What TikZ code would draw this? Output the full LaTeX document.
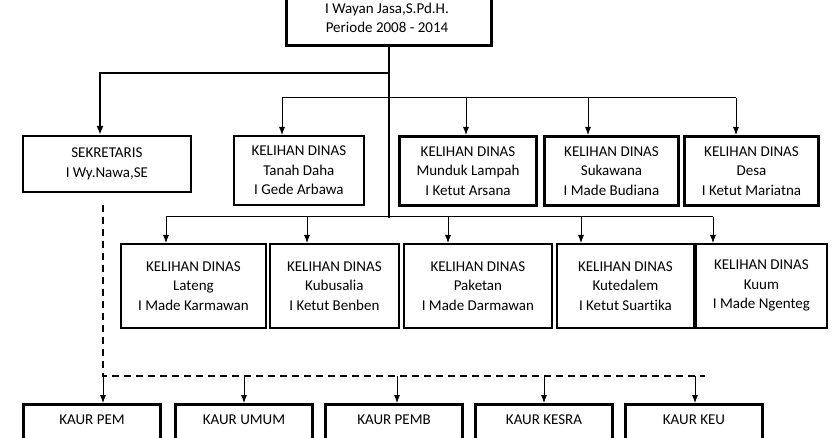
\documentclass[tikz,border=0pt]{standalone}
\usepackage{fontspec}
\setmainfont[Ligatures=NoCommon]{Carlito}
\usetikzlibrary{calc,arrows.meta}
\begin{document}
\begin{tikzpicture}[x=1pt,y=-1pt,font=\fontsize{15}{19.5}\selectfont,
 bx/.style={draw,line width=1.8pt,anchor=north west,inner sep=0pt},
 tk/.style={draw,line width=3pt,anchor=north west,inner sep=0pt},
 arr/.style={-{Latex[length=8pt,width=6pt]},line width=0.8pt}]
\useasboundingbox (0,0) rectangle (835,438);
\begin{scope}
\clip (0,0) rectangle (835,438);
\node[tk,minimum width=205pt,minimum height=54pt] (top) at (285,-10) {};
\node[align=center] at (387,18) {I Wayan Jasa,S.Pd.H.\\Periode 2008 - 2014};
% row 1
\node[bx,minimum width=168pt,minimum height=56pt,align=center] (sek) at (22,135) {SEKRETARIS\\I Wy.Nawa,SE};
\node[bx,minimum width=130pt,minimum height=69pt,align=center] (k1) at (233,135) {KELIHAN DINAS\\Tanah Daha\\I Gede Arbawa};
\node[tk,minimum width=137pt,minimum height=69pt,align=center] (k2) at (398,135) {KELIHAN DINAS\\Munduk Lampah\\I Ketut Arsana};
\node[tk,minimum width=134pt,minimum height=69pt,align=center] (k3) at (543,135) {KELIHAN DINAS\\Sukawana\\I Made Budiana};
\node[tk,minimum width=134pt,minimum height=69pt,align=center] (k4) at (683,135) {KELIHAN DINAS\\Desa\\I Ketut Mariatna};
% row 2
\node[bx,minimum width=145pt,minimum height=84pt,align=center] (r1) at (120,243) {KELIHAN DINAS\\Lateng\\I Made Karmawan};
\node[bx,minimum width=129pt,minimum height=84pt,align=center] (r2) at (269,243) {KELIHAN DINAS\\Kubusalia\\I Ketut Benben};
\node[bx,minimum width=148pt,minimum height=84pt,align=center] (r3) at (403,243) {KELIHAN DINAS\\Paketan\\I Made Darmawan};
\node[bx,minimum width=137pt,minimum height=84pt,align=center] (r4) at (556,243) {KELIHAN DINAS\\Kutedalem\\I Ketut Suartika};
\node[bx,minimum width=131pt,minimum height=84pt,align=center] (r5) at (695,243) {KELIHAN DINAS\\Kuum\\I Made Ngenteg};
% row 3
\foreach \n/\x/\t in {p1/22/KAUR PEM,p2/174/KAUR UMUM,p3/324/KAUR PEMB,p4/474/KAUR KESRA,p5/624/KAUR KEU}{
 \node[tk,minimum width=137pt,minimum height=60pt] (\n) at (\x,403) {};
 \node at ($(\n.north)+(0,17)$) {\t};
}
\end{scope}
% connectors
\coordinate (j0) at (389,218);
\draw[line width=2pt] (top.south -| j0) -- (j0);
\draw[line width=2.5pt,-{Latex[length=9pt,width=7pt]}] (389,73) -- (100,73) -- (100,135);
\draw[line width=1pt] (282,98) -- (736,98);
\foreach \x in {282,466,588,736}{\draw[arr] (\x,98) -- (\x,135);}
\draw[line width=1pt] (166,217) -- (713,217);
\foreach \x in {166,307,448,581,713}{\draw[arr] (\x,217) -- (\x,243);}
\draw[line width=1.2pt,dash pattern=on 7pt off 5pt] (103,205) -- (103,376) -- (705,376);
\foreach \x in {103,244,397,544,695}{\draw[arr] (\x,376) -- (\x,403);}
\end{tikzpicture}
\end{document}
